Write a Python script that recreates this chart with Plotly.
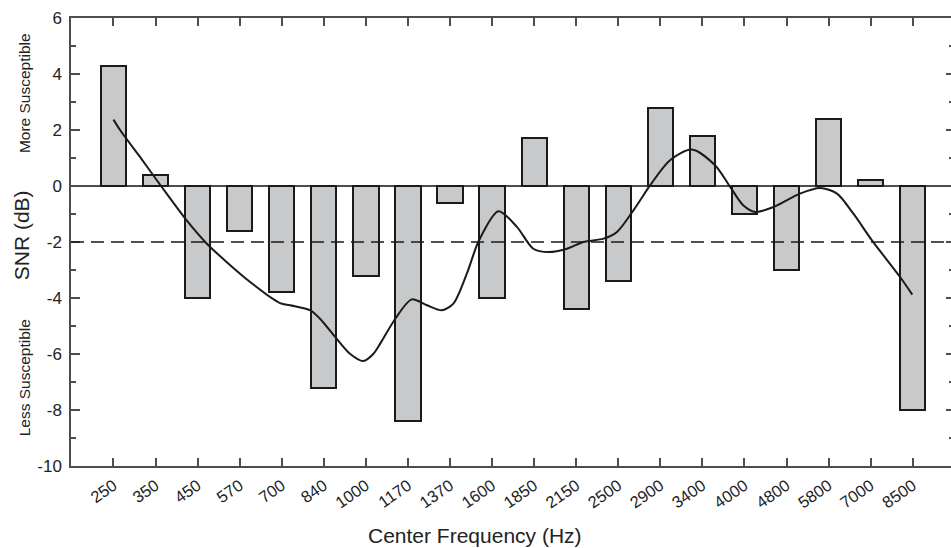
import plotly.graph_objects as go

# Band centre frequencies (Hz) and per-band SNR (dB)
freq_labels = ["250", "350", "450", "570", "700", "840", "1000", "1170", "1370", "1600",
               "1850", "2150", "2500", "2900", "3400", "4000", "4800", "5800", "7000", "8500"]
snr_db = [4.3, 0.4, -4.0, -1.6, -3.8, -7.2, -3.2, -8.4, -0.6, -4.0,
          1.7, -4.4, -3.4, 2.8, 1.8, -1.0, -3.0, 2.4, 0.2, -8.0]

# Smoothed trend, sampled along the band index
trend_pos = [0.0, 0.16, 0.63, 1.13, 1.74, 2.22, 3.25, 3.96, 4.2, 4.68, 4.91, 5.27, 5.62, 5.94,
             6.18, 6.34, 6.70, 7.09, 7.45, 7.81, 8.08, 8.40, 8.69, 9.15, 9.59, 9.98, 10.34,
             10.78, 11.17, 11.65, 11.97, 12.36, 12.76, 13.23, 13.75, 14.3, 14.66, 14.97,
             15.25, 15.69, 16.32, 16.80, 17.2, 17.59, 18.03, 18.70, 18.99]
trend_snr = [2.37, 1.99, 1.04, 0.0, -1.23, -2.06, -3.43, -4.18, -4.26, -4.44, -4.74, -5.39, -5.99, -6.25,
             -5.99, -5.63, -4.74, -4.05, -4.26, -4.44, -4.2, -3.13, -1.94, -0.9, -1.46, -2.24, -2.36,
             -2.24, -2.0, -1.88, -1.64, -0.87, 0.03, 0.92, 1.3, 0.74, -0.03, -0.69,
             -0.93, -0.75, -0.27, -0.07, -0.27, -0.99, -1.94, -3.25, -3.88]

threshold_db = -2
y_ticks = [-10, -8, -6, -4, -2, 0, 2, 4, 6]
y_ticktext = [str(v) for v in y_ticks]

FONT = "Liberation Sans, Arial, sans-serif"
INK = "#1a1a1a"
AXIS = "#4d4d4d"
TEXT = "#222"

idx = list(range(len(freq_labels)))

fig = go.Figure()
fig.add_trace(go.Bar(
    x=idx, y=snr_db, width=0.6,
    marker=dict(color="#c8c9cb", line=dict(color=INK, width=2)),
    showlegend=False,
))
fig.add_trace(go.Scatter(
    x=trend_pos, y=trend_snr, mode="lines",
    line=dict(color=INK, width=2, shape="spline", smoothing=0.8),
    showlegend=False,
))
fig.add_hline(y=threshold_db, line=dict(color=INK, width=1.5, dash="13px,7px"))

fig.update_layout(
    width=951, height=548,
    margin=dict(l=71, r=0, t=18, b=82),
    plot_bgcolor="white", paper_bgcolor="white",
    font=dict(family=FONT, size=16, color=TEXT),
    bargap=0,
    xaxis=dict(
        range=[-1.01, 19.91],
        tickmode="array", tickvals=idx, ticktext=freq_labels,
        tickangle=-35,
        ticks="inside", ticklen=8, tickwidth=1.5, tickcolor=AXIS,
        showline=True, linecolor=AXIS, linewidth=1.5, mirror="ticks",
        showgrid=False, zeroline=False,
        tickfont=dict(size=16.5, color=TEXT),
        ticklabelstandoff=2,
    ),
    yaxis=dict(
        range=[-10, 6],
        tickmode="array", tickvals=y_ticks, ticktext=y_ticktext,
        ticks="inside", ticklen=9, tickwidth=1.5, tickcolor=AXIS,
        minor=dict(ticks="inside", ticklen=5, tickwidth=1.5, tickcolor=AXIS, dtick=1, showgrid=False),
        showline=True, linecolor=AXIS, linewidth=1.5,
        showgrid=False,
        zeroline=True, zerolinecolor=AXIS, zerolinewidth=1.5,
        tickfont=dict(size=17, color=TEXT),
        ticklabelstandoff=4,
    ),
    yaxis2=dict(
        overlaying="y", side="right", range=[-10, 6],
        tickmode="array", tickvals=y_ticks,
        ticks="inside", ticklen=5, tickwidth=1.5, tickcolor=AXIS,
        minor=dict(ticks="inside", ticklen=2, tickwidth=1.5, tickcolor=AXIS, dtick=1, showgrid=False),
        showticklabels=False, showline=False, showgrid=False, zeroline=False,
    ),
)

# empty trace that brings up the right-hand tick axis
fig.add_trace(go.Scatter(x=[None], y=[None], yaxis="y2", showlegend=False, hoverinfo="skip"))

side_x = (24.5 - 71) / 880
fig.add_annotation(text="More Susceptible", xref="paper", yref="y", x=side_x, y=3.3,
                   textangle=-90, showarrow=False, font=dict(size=15.5, color=TEXT),
                   xanchor="center", yanchor="middle")
fig.add_annotation(text="Less Susceptible", xref="paper", yref="y", x=side_x, y=-6.85,
                   textangle=-90, showarrow=False, font=dict(size=15.5, color=TEXT),
                   xanchor="center", yanchor="middle")
fig.add_annotation(text="SNR (dB)", xref="paper", yref="y", x=(21 - 71) / 880, y=-1.76,
                   textangle=-90, showarrow=False, font=dict(size=21, color=TEXT),
                   xanchor="center", yanchor="middle")
fig.add_annotation(text="Center Frequency (Hz)", xref="paper", yref="paper",
                   x=(475 - 71) / 880, y=(466 - 535) / 448,
                   showarrow=False, font=dict(size=21, color=TEXT),
                   xanchor="center", yanchor="middle")

fig.write_html("out.html")
